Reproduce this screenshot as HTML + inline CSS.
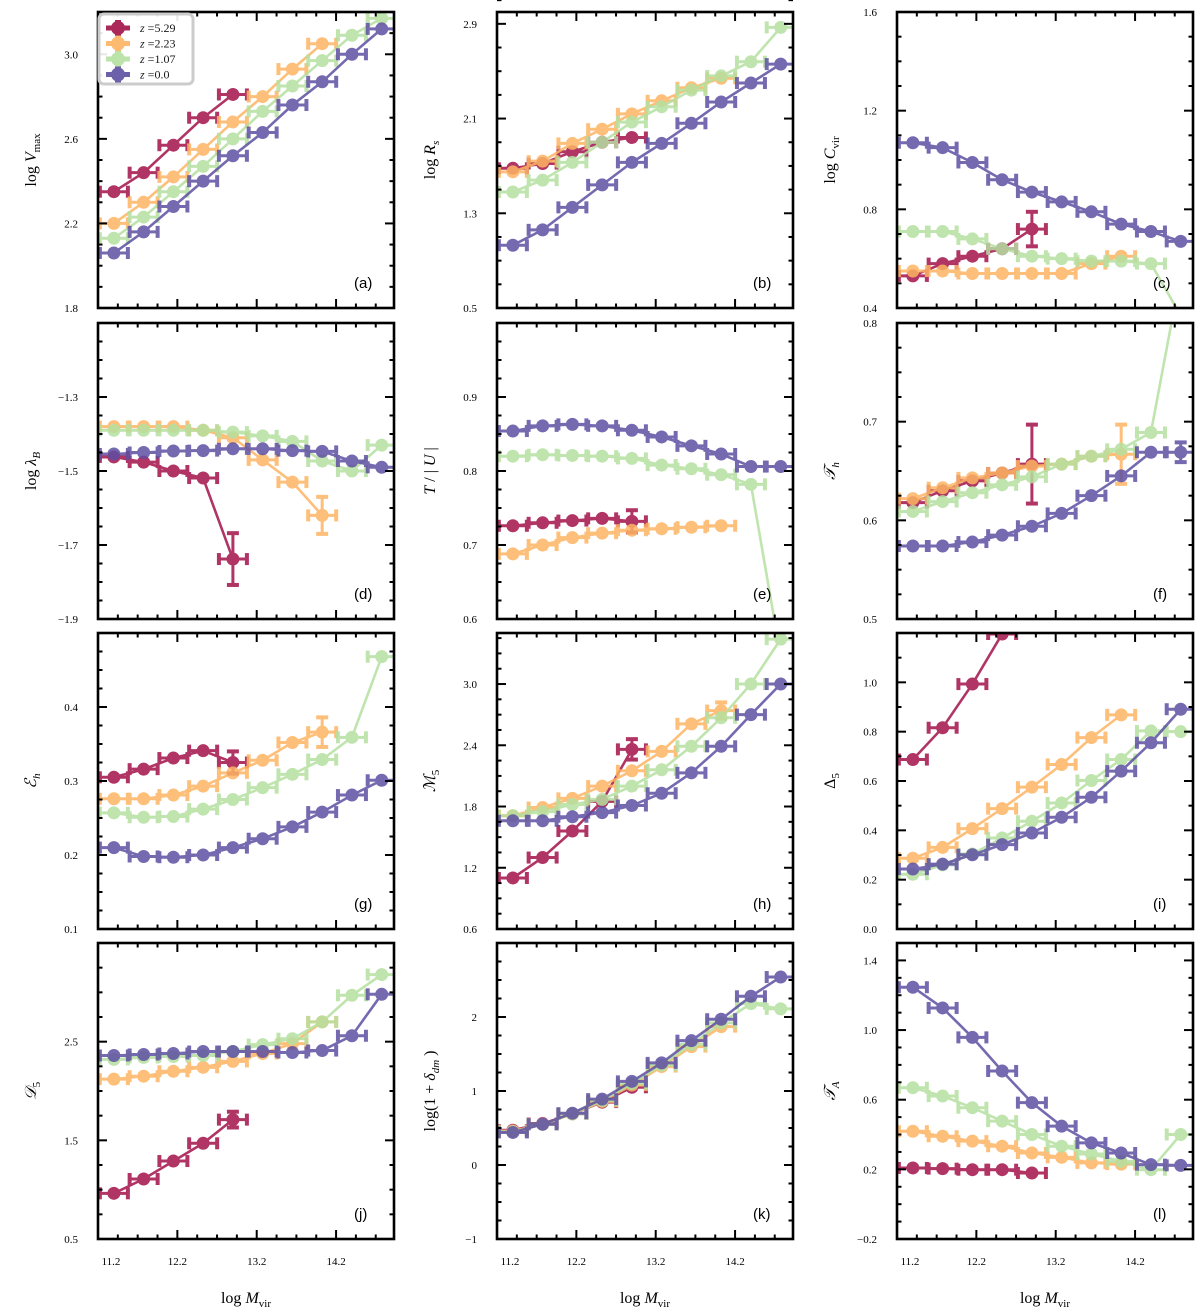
<!DOCTYPE html>
<html><head><meta charset="utf-8"><style>
html,body{margin:0;padding:0;background:#fff;}
svg{display:block;}
text{font-family:"Liberation Serif","DejaVu Serif",serif;fill:#000;}
.lbl{font-family:"Liberation Sans","DejaVu Sans",sans-serif;}
</style></head><body>
<svg id="fig" width="1200" height="1316" viewBox="0 0 1200 1316" xmlns="http://www.w3.org/2000/svg"></svg>
<script>
// ---- data ----
const seriesNames = ["z =5.29","z =2.23","z =1.07","z =0.0"];
const massBins = [11.4,11.775,12.15,12.525,12.9,13.275,13.65,14.025,14.4,14.775];
const xTickVals = [11.2,12.2,13.2,14.2];
const xTickLabels = ["11.2","12.2","13.2","14.2"];
// panel a: log Vmax
const a_r=[2.35,2.44,2.57,2.70,2.81];
const a_o=[2.20,2.30,2.42,2.55,2.68,2.80,2.93,3.05];
const a_g=[2.13,2.23,2.35,2.47,2.60,2.73,2.85,2.97,3.09,3.17];
const a_p=[2.06,2.16,2.28,2.40,2.52,2.63,2.76,2.87,3.00,3.12];
// panel b: log Rs
const b_r=[1.68,1.72,1.82,1.90,1.94];
const b_o=[1.65,1.74,1.89,2.01,2.14,2.25,2.36,2.44];
const b_g=[1.48,1.58,1.73,1.90,2.07,2.20,2.34,2.46,2.58,2.87];
const b_p=[1.03,1.16,1.35,1.54,1.73,1.89,2.06,2.24,2.40,2.56];
// panel c: log Cvir
const c_r=[0.53,0.58,0.61,0.64,0.72];
const c_o=[0.55,0.55,0.54,0.54,0.54,0.54,0.58,0.61];
const c_g=[0.71,0.71,0.68,0.64,0.61,0.60,0.59,0.59,0.58,0.37];
const c_p=[1.07,1.05,0.99,0.92,0.87,0.83,0.79,0.74,0.71,0.67];
// panel d: log lambda_B
const d_r=[-1.462,-1.476,-1.50,-1.519,-1.738];
const d_o=[-1.38,-1.38,-1.38,-1.39,-1.41,-1.47,-1.53,-1.62];
const d_g=[-1.39,-1.39,-1.39,-1.39,-1.395,-1.405,-1.42,-1.473,-1.50,-1.43];
const d_p=[-1.454,-1.45,-1.446,-1.445,-1.44,-1.44,-1.445,-1.447,-1.473,-1.49];
// panel e: T/|U|
const e_r=[0.726,0.730,0.733,0.736,0.732];
const e_o=[0.688,0.700,0.710,0.716,0.720,0.722,0.724,0.726];
const e_g=[0.820,0.822,0.821,0.820,0.817,0.808,0.803,0.795,0.782,0.55];
const e_p=[0.854,0.861,0.863,0.861,0.855,0.846,0.834,0.823,0.806,0.806];
// panel f: T_h
const f_r=[0.618,0.630,0.640,0.648,0.657];
const f_o=[0.622,0.633,0.643,0.648,0.655,0.657,0.665,0.667];
const f_g=[0.609,0.619,0.628,0.636,0.644,0.657,0.665,0.672,0.689,0.85];
const f_p=[0.574,0.574,0.578,0.585,0.594,0.607,0.625,0.645,0.669,0.669];
// panel g: E_h
const g_r=[0.305,0.316,0.331,0.341,0.325];
const g_o=[0.276,0.276,0.281,0.293,0.311,0.328,0.352,0.366];
const g_g=[0.257,0.251,0.252,0.262,0.275,0.291,0.309,0.329,0.359,0.468];
const g_p=[0.210,0.198,0.197,0.200,0.210,0.222,0.238,0.258,0.281,0.301];
// panel h: M5
const h_r=[1.10,1.30,1.56,1.85,2.36];
const h_o=[1.71,1.79,1.88,2.00,2.15,2.34,2.61,2.74];
const h_g=[1.71,1.75,1.82,1.87,2.00,2.16,2.39,2.67,3.00,3.44];
const h_p=[1.66,1.66,1.70,1.74,1.81,1.93,2.13,2.39,2.70,3.00];
// panel i: Delta5
const i_r=[0.687,0.816,0.993,1.196,1.40];
const i_o=[0.287,0.331,0.407,0.488,0.575,0.667,0.776,0.868];
const i_g=[0.222,0.260,0.304,0.369,0.437,0.511,0.602,0.687,0.803,0.800];
const i_p=[0.243,0.263,0.301,0.342,0.389,0.453,0.534,0.640,0.755,0.891];
// panel j: D5
const j_r=[0.963,1.108,1.29,1.47,1.71];
const j_o=[2.12,2.15,2.20,2.24,2.30,2.38,2.48,2.70];
const j_g=[2.32,2.34,2.35,2.36,2.40,2.47,2.53,2.70,2.97,3.18];
const j_p=[2.36,2.37,2.38,2.40,2.40,2.40,2.39,2.41,2.56,2.98];
// panel k: log(1+delta_dm)
const k_r=[0.47,0.56,0.69,0.85,1.05];
const k_o=[0.46,0.55,0.69,0.86,1.08,1.33,1.60,1.87];
const k_g=[0.45,0.55,0.69,0.87,1.10,1.35,1.63,1.92,2.18,2.11];
const k_p=[0.44,0.55,0.70,0.89,1.13,1.38,1.68,1.97,2.28,2.54];
// panel l: T_A
const l_r=[0.208,0.204,0.198,0.198,0.179];
const l_o=[0.419,0.390,0.362,0.333,0.294,0.269,0.237,0.230];
const l_g=[0.669,0.621,0.554,0.477,0.400,0.333,0.288,0.246,0.198,0.400];
const l_p=[1.246,1.127,0.958,0.765,0.583,0.448,0.352,0.294,0.227,0.223];
// notable vertical error bars (last point)
const yerrLast = {c:[0.07,0,0,0],d:[0.07,0.05,0.015,0],e:[0.015,0,0,0],f:[0.04,0.03,0.015,0.01],g:[0.015,0.02,0,0],h:[0.1,0.08,0,0],j:[0.08,0.06,0,0]};
// tick labels
const a_ticks=[1.8,2.2,2.6,3.0], a_tl=["1.8","2.2","2.6","3.0"];
const b_ticks=[0.5,1.3,2.1,2.9], b_tl=["0.5","1.3","2.1","2.9"];
const c_ticks=[0.4,0.8,1.2,1.6], c_tl=["0.4","0.8","1.2","1.6"];
const d_ticks=[-1.9,-1.7,-1.5,-1.3], d_tl=["\u22121.9","\u22121.7","\u22121.5","\u22121.3"];
const e_ticks=[0.6,0.7,0.8,0.9], e_tl=["0.6","0.7","0.8","0.9"];
const f_ticks=[0.5,0.6,0.7,0.8], f_tl=["0.5","0.6","0.7","0.8"];
const g_ticks=[0.1,0.2,0.3,0.4], g_tl=["0.1","0.2","0.3","0.4"];
const h_ticks=[0.6,1.2,1.8,2.4,3.0], h_tl=["0.6","1.2","1.8","2.4","3.0"];
const i_ticks=[0,0.2,0.4,0.6,0.8,1.0], i_tl=["0.0","0.2","0.4","0.6","0.8","1.0"];
const j_ticks=[0.5,1.5,2.5], j_tl=["0.5","1.5","2.5"];
const k_ticks=[-1,0,1,2], k_tl=["\u22121","0","1","2"];
const l_ticks=[-0.2,0.2,0.6,1.0,1.4], l_tl=["\u22120.2","0.2","0.6","1.0","1.4"];

const colors=["#a3114a","#fdb462","#b5e0a0","#5e4fa2"];
const NS="http://www.w3.org/2000/svg";
const svg=document.getElementById('fig');
function mk(tag,attrs,parent){const e=document.createElementNS(NS,tag);for(const k in attrs)e.setAttribute(k,attrs[k]);(parent||svg).appendChild(e);return e;}

const colL=[98,497,897], rowT=[12,323,633,943], W=296, H=296;
const XMIN=11.2, XMAX=14.93;
const panels=[
 {id:"a",y:[a_r,a_o,a_g,a_p],lim:[1.8,3.2],ticks:a_ticks,tl:a_tl,minor:0.1,label:'log <tspan font-style="italic">V</tspan><tspan font-size="11" dy="4">max</tspan>'},
 {id:"b",y:[b_r,b_o,b_g,b_p],lim:[0.5,3.0],ticks:b_ticks,tl:b_tl,minor:0.2,label:'log <tspan font-style="italic">R</tspan><tspan font-size="11" dy="4" font-style="italic">s</tspan>'},
 {id:"c",y:[c_r,c_o,c_g,c_p],lim:[0.4,1.6],ticks:c_ticks,tl:c_tl,minor:0.1,label:'log <tspan font-style="italic">C</tspan><tspan font-size="11" dy="4">vir</tspan>'},
 {id:"d",y:[d_r,d_o,d_g,d_p],lim:[-1.9,-1.1],ticks:d_ticks,tl:d_tl,minor:0.05,label:'log <tspan font-style="italic">λ</tspan><tspan font-size="11" dy="4" font-style="italic">B</tspan>'},
 {id:"e",y:[e_r,e_o,e_g,e_p],lim:[0.6,1.0],ticks:e_ticks,tl:e_tl,minor:0.025,label:'<tspan font-style="italic">T</tspan> / | <tspan font-style="italic">U</tspan> |'},
 {id:"f",y:[f_r,f_o,f_g,f_p],lim:[0.5,0.8],ticks:f_ticks,tl:f_tl,minor:0.025,label:'<tspan font-style="italic">𝒯</tspan><tspan font-size="11" dy="4" font-style="italic">h</tspan>'},
 {id:"g",y:[g_r,g_o,g_g,g_p],lim:[0.1,0.5],ticks:g_ticks,tl:g_tl,minor:0.025,label:'<tspan font-style="italic">ℰ</tspan><tspan font-size="11" dy="4" font-style="italic">h</tspan>'},
 {id:"h",y:[h_r,h_o,h_g,h_p],lim:[0.6,3.5],ticks:h_ticks,tl:h_tl,minor:0.15,label:'<tspan font-style="italic">ℳ</tspan><tspan font-size="11" dy="4">5</tspan>'},
 {id:"i",y:[i_r,i_o,i_g,i_p],lim:[0,1.2],ticks:i_ticks,tl:i_tl,minor:0.1,label:'Δ<tspan font-size="11" dy="4">5</tspan>'},
 {id:"j",y:[j_r,j_o,j_g,j_p],lim:[0.5,3.5],ticks:j_ticks,tl:j_tl,minor:0.25,label:'<tspan font-style="italic">𝒟</tspan><tspan font-size="11" dy="4">5</tspan>'},
 {id:"k",y:[k_r,k_o,k_g,k_p],lim:[-1,3],ticks:k_ticks,tl:k_tl,minor:0.25,label:'log(1 + <tspan font-style="italic">δ</tspan><tspan font-size="11" dy="4" font-style="italic">dm</tspan><tspan dy="-4"> )</tspan>'},
 {id:"l",y:[l_r,l_o,l_g,l_p],lim:[-0.2,1.5],ticks:l_ticks,tl:l_tl,minor:0.1,label:'<tspan font-style="italic">𝒯</tspan><tspan font-size="11" dy="4" font-style="italic">A</tspan>'}
];

const defs=mk('defs',{});
panels.forEach((P,pi)=>{
  const L=colL[pi%3], T=rowT[Math.floor(pi/3)], B=T+H, R=L+W;
  const xs=v=>L+(v-XMIN)/(XMAX-XMIN)*W;
  const ys=v=>B-(v-P.lim[0])/(P.lim[1]-P.lim[0])*H;
  const g=mk('g',{});
  
  
  const cp=mk('clipPath',{id:'clip'+P.id},defs);
  mk('rect',{x:L,y:T,width:W,height:H},cp);
  const plot=mk('g',{'clip-path':'url(#clip'+P.id+')'},g);
  P.y.forEach((vals,si)=>{
    const sg=mk('g',{opacity:0.85},plot);
    
    
    const col=colors[si];
    const pts=vals.map((v,i)=>xs(massBins[i]).toFixed(1)+','+ys(v).toFixed(1)).join(' ');
    const ln=mk('polyline',{points:pts,fill:'none',stroke:col,'stroke-width':2.6},sg);
    
    
    vals.forEach((v,i)=>{
      const cx=xs(massBins[i]), cy=ys(v);
      const hw=14;
      mk('line',{x1:cx-hw,y1:cy,x2:cx+hw,y2:cy,stroke:col,'stroke-width':3},sg);
      mk('line',{x1:cx-hw,y1:cy-6,x2:cx-hw,y2:cy+6,stroke:col,'stroke-width':4},sg);
      mk('line',{x1:cx+hw,y1:cy-6,x2:cx+hw,y2:cy+6,stroke:col,'stroke-width':4},sg);
      let ye=0;
      if(yerrLast[P.id] && i===vals.length-1) ye=yerrLast[P.id][si];
      const yh=Math.max(4,Math.abs(ys(v+ye)-cy));
      mk('line',{x1:cx,y1:cy-yh,x2:cx,y2:cy+yh,stroke:col,'stroke-width':3},sg);
      if(yh>6){mk('line',{x1:cx-6,y1:cy-yh,x2:cx+6,y2:cy-yh,stroke:col,'stroke-width':4},sg);
               mk('line',{x1:cx-6,y1:cy+yh,x2:cx+6,y2:cy+yh,stroke:col,'stroke-width':4},sg);}
      const c=mk('circle',{cx:cx,cy:cy,r:6.5,fill:col},sg);
      
      
    });
  });
  const fr=mk('rect',{x:L,y:T,width:W,height:H,fill:'none',stroke:'#000','stroke-width':2.6},g);
  
  
  for(let v=11.2;v<=XMAX+1e-6;v+=0.25){
    const x=xs(v); const major=Math.abs((v-11.2)-Math.round(v-11.2))<1e-6; const len=major?9:4.5;
    mk('line',{x1:x,y1:B,x2:x,y2:B-len,stroke:'#000','stroke-width':2},g);
    mk('line',{x1:x,y1:T,x2:x,y2:T+len,stroke:'#000','stroke-width':2},g);
  }
  const n=Math.round((P.lim[1]-P.lim[0])/P.minor);
  for(let k=0;k<=n;k++){
    const v=P.lim[0]+k*P.minor; const y=ys(v);
    const major=P.ticks.some(t=>Math.abs(t-v)<1e-6); const len=major?9:4.5;
    mk('line',{x1:L,y1:y,x2:L+len,y2:y,stroke:'#000','stroke-width':2},g);
    mk('line',{x1:R,y1:y,x2:R-len,y2:y,stroke:'#000','stroke-width':2},g);
  }
  P.ticks.forEach((t,ti)=>{
    const tx=mk('text',{x:L-20,y:ys(t)+4,'text-anchor':'end','font-size':11},g);
    tx.textContent=P.tl[ti];
    
    
  });
  const yl=mk('text',{x:0,y:0,'text-anchor':'middle','font-size':16,transform:`translate(${L-62},${(T+B)/2}) rotate(-90)`},g);
  yl.innerHTML=P.label;
  
  
  const pl=mk('text',{x:R-40,y:B-20,'font-size':15,'class':'lbl'},g);
  pl.textContent='('+P.id+')';
  
  
  if(pi>=9){
    xTickVals.forEach((v,ti)=>{
      const tx=mk('text',{x:ti===0?xs(v)+13:xs(v),y:B+26,'text-anchor':'middle','font-size':11},g);
      tx.textContent=xTickLabels[ti];
      
      
    });
    const xl=mk('text',{x:(L+R)/2,y:B+64,'text-anchor':'middle','font-size':16},g);
    xl.innerHTML='log <tspan font-style="italic">M</tspan><tspan font-size="11" dy="4">vir</tspan>';
    
    
  }
});
const lg=mk('g',{});


mk('rect',{x:99,y:14,width:94,height:70,rx:5,fill:'#fff','fill-opacity':0.9,stroke:'#ccc','stroke-width':3},lg);
seriesNames.forEach((nm,si)=>{
  const y=28+si*15.5;
  const e=mk('g',{opacity:0.9},lg);
  
  
  mk('line',{x1:106,y1:y,x2:130,y2:y,stroke:colors[si],'stroke-width':5},e);
  mk('line',{x1:118,y1:y-8,x2:118,y2:y+8,stroke:colors[si],'stroke-width':6},e);
  mk('circle',{cx:118,cy:y,r:7,fill:colors[si]},e);
  const t=mk('text',{x:140,y:y+4,'font-size':12},e);
  t.innerHTML='<tspan font-style="italic">z</tspan> '+nm.slice(2);
});
</script>
</body></html>
